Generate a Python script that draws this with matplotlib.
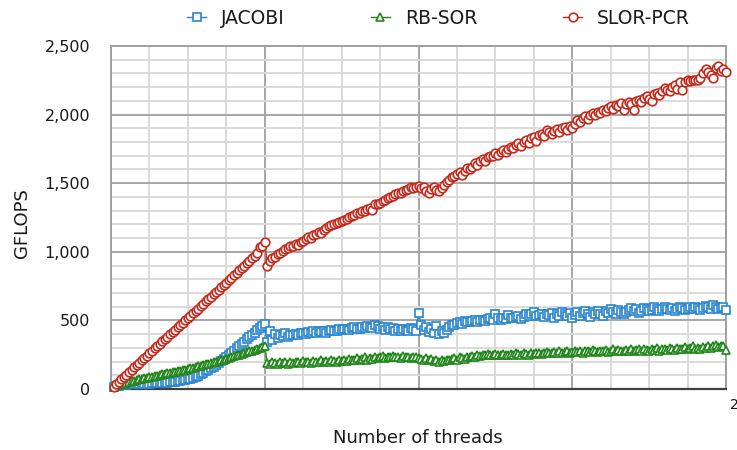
import numpy as np
import matplotlib
matplotlib.use("Agg")
import matplotlib.pyplot as plt
from matplotlib.ticker import MultipleLocator, FuncFormatter

# threads 1..240
threads = list(range(1, 241))

jacobi = [
    15, 20, 24, 28, 30, 32, 34, 35, 36, 37,
    38, 38, 39, 40, 40, 41, 42, 42, 43, 44,
    45, 46, 48, 50, 52, 55, 58, 62, 66, 70,
    75, 82, 90, 98, 108, 118, 128, 138, 150, 162,
    175, 190, 205, 220, 235, 250, 265, 280, 300, 315,
    330, 345, 365, 380, 395, 410, 430, 445, 460, 475,
    340, 420, 360, 400, 375, 395, 385, 405, 380, 390,
    395, 400, 390, 410, 405, 400, 415, 410, 420, 405,
    420, 415, 425, 410, 420, 430, 425, 420, 440, 430,
    435, 440, 430, 445, 450, 440, 435, 455, 445, 460,
    450, 445, 470, 460, 440, 455, 430, 450, 440, 445,
    420, 435, 425, 440, 430, 420, 445, 435, 420, 555,
    470, 430, 450, 415, 440, 410, 460, 400, 420, 405,
    430, 450, 470, 465, 480, 490, 475, 495, 490, 485,
    495, 500, 490, 505, 500, 495, 510, 520, 505, 550,
    515, 505, 520, 510, 540, 520, 515, 525, 530, 510,
    525, 550, 530, 545, 560, 530, 540, 545, 525, 550,
    540, 555, 520, 550, 535, 560, 545, 530, 555, 520,
    540, 560, 535, 555, 570, 545, 525, 560, 550, 565,
    545, 530, 570, 555, 580, 560, 545, 575, 560, 550,
    560, 575, 590, 565, 580, 555, 570, 590, 585, 565,
    575, 600, 580, 570, 585, 595, 580, 575, 590, 570,
    585, 600, 590, 575, 580, 595, 580, 600, 590, 575,
    590, 605, 595, 580, 610, 600, 585, 590, 600, 575,
]

rbsor = [
    15, 22, 28, 34, 40, 45, 50, 55, 60, 65,
    70, 74, 78, 82, 86, 90, 94, 98, 102, 106,
    110, 114, 118, 122, 126, 130, 134, 138, 142, 146,
    150, 155, 160, 165, 170, 175, 180, 185, 190, 195,
    200, 205, 210, 215, 220, 225, 232, 238, 245, 250,
    255, 262, 268, 275, 280, 285, 290, 300, 305, 310,
    190, 185, 195, 190, 185, 195, 190, 200, 185, 195,
    190, 200, 195, 190, 205, 195, 200, 190, 205, 195,
    200, 210, 195, 205, 200, 215, 205, 200, 210, 205,
    215, 205, 220, 210, 215, 225, 210, 220, 230, 215,
    225, 220, 235, 225, 230, 240, 225, 235, 230, 240,
    230, 235, 225, 240, 230, 235, 225, 230, 235, 225,
    220, 215, 225, 210, 220, 205, 215, 200, 210, 205,
    215, 210, 220, 225, 215, 230, 225, 220, 235, 230,
    240, 235, 245, 240, 250, 245, 255, 250, 245, 255,
    250, 245, 255, 250, 245, 255, 250, 260, 255, 250,
    260, 255, 250, 265, 255, 260, 265, 255, 260, 270,
    260, 265, 270, 260, 275, 265, 270, 280, 265, 270,
    275, 270, 280, 265, 275, 280, 270, 285, 275, 270,
    280, 275, 285, 270, 280, 290, 275, 285, 280, 275,
    285, 280, 290, 275, 285, 295, 280, 290, 285, 280,
    290, 285, 300, 280, 295, 290, 285, 300, 290, 285,
    300, 290, 295, 305, 290, 300, 310, 295, 300, 290,
    305, 300, 315, 300, 310, 320, 305, 315, 310, 285,
]

slorpcr = [
    18, 35, 52, 70, 88, 105, 122, 140, 157, 175,
    192, 210, 226, 244, 262, 279, 296, 313, 330, 348,
    365, 382, 398, 416, 432, 450, 467, 484, 500, 518,
    535, 552, 570, 586, 604, 620, 638, 655, 672, 690,
    708, 724, 742, 760, 776, 795, 812, 830, 846, 865,
    882, 900, 918, 936, 953, 972, 990, 1035, 1040, 1075,
    900, 930, 955, 965, 985, 990, 1005, 1020, 1025, 1040,
    1045, 1060, 1050, 1070, 1080, 1090, 1105, 1100, 1120, 1130,
    1145, 1140, 1160, 1170, 1185, 1195, 1200, 1210, 1215, 1225,
    1235, 1240, 1250, 1260, 1265, 1280, 1285, 1300, 1295, 1310,
    1320, 1305, 1345, 1350, 1355, 1370, 1375, 1390, 1400, 1405,
    1420, 1430, 1425, 1440, 1450, 1460, 1470, 1465, 1475, 1480,
    1465, 1470, 1440, 1430, 1455, 1470, 1450, 1445, 1465, 1490,
    1510, 1525, 1545, 1550, 1570, 1580, 1560, 1590, 1610, 1605,
    1620, 1645, 1630, 1660, 1675, 1665, 1690, 1700, 1695, 1720,
    1705, 1730, 1740, 1725, 1750, 1765, 1755, 1780, 1790, 1770,
    1800, 1815, 1790, 1830, 1840, 1810, 1850, 1860, 1845, 1890,
    1870, 1860, 1880, 1895, 1870, 1900, 1910, 1885, 1920, 1905,
    1935, 1960, 1945, 1975, 1990, 1970, 2000, 2015, 1995, 2020,
    2010, 2035, 2025, 2050, 2060, 2040, 2070, 2065, 2085, 2035,
    2080, 2095, 2075, 2030, 2100, 2110, 2090, 2120, 2135, 2115,
    2100, 2150, 2160, 2140, 2175, 2195, 2180, 2170, 2200, 2215,
    2190, 2235, 2180, 2240, 2250, 2245, 2250, 2255, 2250, 2265,
    2300, 2330, 2310, 2290, 2270, 2340, 2355, 2320, 2335, 2310,
]

series_names = ["JACOBI", "RB-SOR", "SLOR-PCR"]
series_colors = ["#2a86cf", "#22861c", "#c42a1c"]
series_markers = ["s", "^", "o"]

plt.rcParams['font.family'] = ['DejaVu Sans']

fig = plt.figure(figsize=(7.37, 4.5), dpi=100)
ax = fig.add_axes([111 / 737, 1 - 389 / 450, 615 / 737, 343 / 450])

msizes = [5.2, 5.6, 6.2]
for name, vals, col, mk, ms in zip(series_names, [jacobi, rbsor, slorpcr],
                                   series_colors, series_markers, msizes):
    ax.plot(threads, vals, color=col, lw=1.0, marker=mk, markersize=ms,
            markerfacecolor="white", markeredgecolor=col, markeredgewidth=1.2,
            label=name, clip_on=False, zorder=3)

ax.set_xlim(0, 240)
ax.set_ylim(0, 2500)
ax.xaxis.set_major_locator(MultipleLocator(60))
ax.xaxis.set_minor_locator(MultipleLocator(15))
ax.yaxis.set_major_locator(MultipleLocator(500))
ax.yaxis.set_minor_locator(MultipleLocator(100))
ax.yaxis.set_major_formatter(FuncFormatter(lambda v, p: f"{int(v):,}"))
ax.set_xticklabels([])

ax.grid(which="major", color="#a6a6a6", lw=1.4, zorder=0)
ax.grid(which="minor", color="#dadada", lw=1.4, zorder=0)
ax.set_axisbelow(True)

for side in ["left", "top", "right"]:
    ax.spines[side].set_color("#a0a0a0")
    ax.spines[side].set_linewidth(1.4)
ax.spines["bottom"].set_color("#404040")
ax.spines["bottom"].set_linewidth(1.6)

ax.tick_params(axis="y", which="both", length=0, pad=15, labelsize=11.5,
               labelcolor="#1a1a1a")
ax.tick_params(axis="x", which="both", length=0)

fig.text(22 / 737, 1 - 223 / 450, "GFLOPS", rotation=90, ha="center",
         va="center", fontsize=13, color="#1a1a1a")
fig.text(418 / 737, 1 - 438 / 450, "Number of threads", ha="center",
         va="center", fontsize=13, color="#1a1a1a")
# last x tick label, cut by the figure edge
fig.text(730 / 737, 1 - 405 / 450, "240", ha="left", va="center",
         fontsize=10, color="#1a1a1a")

leg = fig.legend(loc="center", bbox_to_anchor=(0.595, 1 - 18 / 450), ncol=3,
                 frameon=False, fontsize=13.5, handlelength=1.0,
                 handletextpad=0.8, columnspacing=4.6)
for t in leg.get_texts():
    t.set_color("#1a1a1a")

fig.savefig("out.png", dpi=100)
